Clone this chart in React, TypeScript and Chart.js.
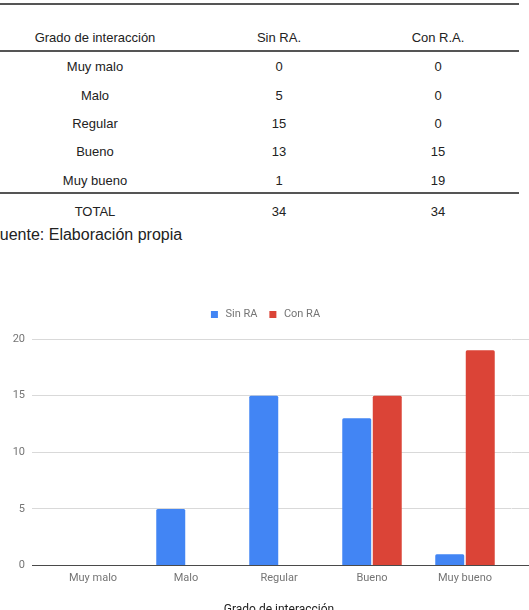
import React, { useEffect, useRef } from "react";
import { Chart, registerables } from "chart.js";

Chart.register(...registerables);

// Interaction grades and counts per group
const categories = ["Muy malo", "Malo", "Regular", "Bueno", "Muy bueno"];
const sinRA = [0, 5, 15, 13, 1];
const conRA = [0, 0, 0, 15, 19];

const seriesLabels = ["Sin RA", "Con RA"];
const tableHeaders = ["Grado de interacción", "Sin RA.", "Con R.A."];
const totalLabel = "TOTAL";
const sourceNote = "Fuente: Elaboración propia";
const axisTitle = "Grado de interacción";

const yTicks = { min: 0, max: 20, step: 5 };

const BLUE = "#4285F4";
const RED = "#DB4437";
const GRID = "#d9d9d9";
const BASE = "#4a4a4a";
const TICK_TEXT = "#757575";

const sum = (a: number[]) => a.reduce((s, v) => s + v, 0);

const tableFont = '"Liberation Sans", Arial, sans-serif';
const colCenters = [95, 279, 438];

function TableRow({ cells, y }: { cells: (string | number)[]; y: number }) {
  return (
    <>
      {cells.map((c, i) => (
        <div
          key={i}
          style={{
            position: "absolute",
            left: colCenters[i] - 100,
            width: 200,
            top: y - 8,
            height: 16,
            lineHeight: "16px",
            textAlign: "center",
            fontSize: 13,
            color: "#222",
            fontFamily: tableFont,
          }}
        >
          {c}
        </div>
      ))}
    </>
  );
}

function Rule({ y }: { y: number }) {
  return (
    <div
      style={{
        position: "absolute",
        left: 0,
        top: y,
        width: 519,
        height: 2,
        background: "#555",
      }}
    />
  );
}

function BarChart() {
  const ref = useRef<HTMLCanvasElement | null>(null);

  useEffect(() => {
    if (!ref.current) return;
    const gridColor = (ctx: any) => (ctx.tick && ctx.tick.value === 0 ? BASE : GRID);

    const legendSpacing = {
      id: "legendSpacing",
      beforeInit(chart: any) {
        const legend = chart.legend;
        if (!legend) return;
        const fit = legend.fit;
        legend.fit = function () {
          fit.call(this);
          this.height += 9;
        };
      },
    };

    const chart = new Chart(ref.current, {
      type: "bar",
      data: {
        labels: categories,
        datasets: [
          {
            label: seriesLabels[0],
            data: sinRA,
            backgroundColor: BLUE,
            borderRadius: 1.5,
            borderSkipped: "start",
          },
          {
            label: seriesLabels[1],
            data: conRA,
            backgroundColor: RED,
            borderRadius: 1.5,
            borderSkipped: "start",
          },
        ],
      },
      plugins: [legendSpacing],
      options: {
        responsive: false,
        animation: false,
        devicePixelRatio: 1,
        layout: { padding: { top: 9, left: 0, right: 0, bottom: 0 } },
        datasets: {
          bar: { barPercentage: 0.95, categoryPercentage: 0.656 },
        },
        plugins: {
          tooltip: { enabled: false },
          legend: {
            position: "top",
            labels: {
              usePointStyle: true,
              pointStyle: "rect",
              boxWidth: 11,
              boxHeight: 7,
              padding: 10,
              color: TICK_TEXT,
              font: { family: "Roboto", size: 11 },
            },
          },
        },
        scales: {
          x: {
            offset: true,
            grid: { display: true, drawOnChartArea: false, drawTicks: false },
            border: { display: true, color: BASE, width: 1 },
            ticks: {
              color: TICK_TEXT,
              font: { family: "Roboto", size: 11 },
              padding: 6,
              maxRotation: 0,
            },
            title: {
              display: true,
              text: axisTitle,
              color: "#222",
              font: { family: "Roboto", size: 12 },
            },
            afterFit(scale: any) {
              scale.height = 55.5;
            },
          },
          y: {
            position: "left",
            min: yTicks.min,
            max: yTicks.max,
            ticks: {
              stepSize: yTicks.step,
              color: TICK_TEXT,
              font: { family: "Roboto", size: 11 },
              padding: 7,
            },
            grid: { color: gridColor, tickColor: gridColor, tickLength: 14.5, lineWidth: 1 },
            border: { display: false },
            afterFit(scale: any) {
              scale.width = 46.5;
            },
          },
          yRight: {
            position: "right",
            min: yTicks.min,
            max: yTicks.max,
            ticks: { stepSize: yTicks.step, display: false },
            grid: {
              drawOnChartArea: false,
              color: gridColor,
              tickColor: gridColor,
              tickLength: 17.5,
              lineWidth: 1,
            },
            border: { display: false },
            afterFit(scale: any) {
              scale.width = 17.5;
            },
          },
        },
      },
    } as any);

    return () => chart.destroy();
  }, []);

  return (
    <canvas
      ref={ref}
      width={529}
      height={331}
      style={{ position: "absolute", left: 0, top: 290, width: 529, height: 331, display: "block" }}
    />
  );
}

export default function App() {
  const rowYs = [66.7, 95.7, 124, 152.3, 181];
  return (
    <div
      style={{
        position: "fixed",
        left: 0,
        top: 0,
        width: 529,
        height: 610,
        overflow: "hidden",
        background: "#fff",
      }}
    >
      <Rule y={3} />
      <TableRow cells={tableHeaders} y={38.3} />
      <Rule y={49.7} />
      {categories.map((c, i) => (
        <TableRow key={c} cells={[c, sinRA[i], conRA[i]]} y={rowYs[i]} />
      ))}
      <Rule y={192.3} />
      <TableRow cells={[totalLabel, sum(sinRA), sum(conRA)]} y={211.7} />
      <div
        style={{
          position: "absolute",
          left: -10,
          top: 225,
          height: 20,
          lineHeight: "20px",
          fontSize: 16,
          color: "#222",
          fontFamily: tableFont,
          whiteSpace: "nowrap",
        }}
      >
        {sourceNote}
      </div>
      <BarChart />
    </div>
  );
}
